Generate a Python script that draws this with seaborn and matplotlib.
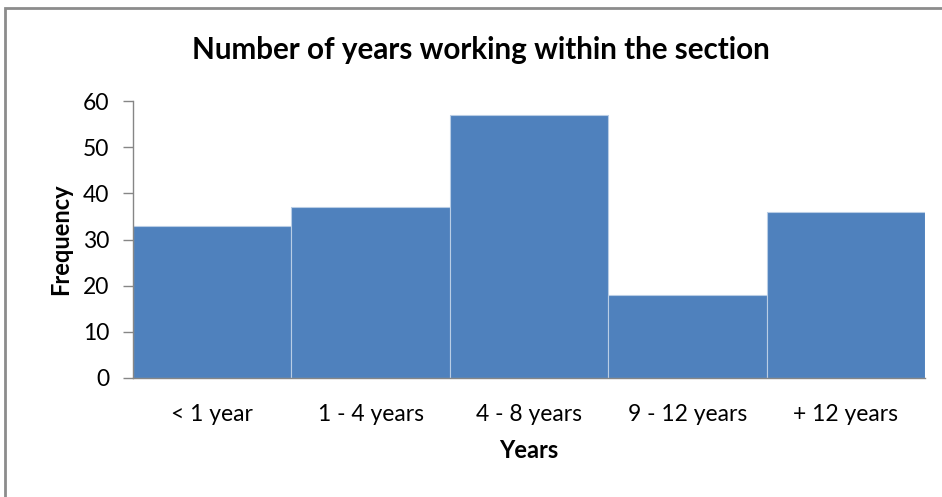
import matplotlib
matplotlib.use("Agg")
import matplotlib.pyplot as plt
import seaborn as sns
import pandas as pd
from matplotlib.patches import Rectangle

categories = ["< 1 year", "1 - 4 years", "4 - 8 years", "9 - 12 years", "+ 12 years"]
frequency = [33, 37, 57, 18, 36]
yticks = [0, 10, 20, 30, 40, 50, 60]

sns.set_theme(style="white")
plt.rcParams['font.family'] = ['Lato', 'DejaVu Sans']

df = pd.DataFrame({"Years": categories, "Frequency": frequency})

fig = plt.figure(figsize=(9.42, 4.97), dpi=100)
ax = fig.add_axes([133/942, 1-378/497, (925-133)/942, (378-101)/497])

sns.barplot(data=df, x="Years", y="Frequency", ax=ax, color="#4F81BD",
            width=1.0, edgecolor="#B9CDE5", linewidth=0.8, saturation=1)

ax.set_ylim(0, 60)
ax.set_xlim(-0.5, len(categories)-0.5)
ax.set_yticks(yticks)
ax.set_yticklabels([str(v) for v in yticks], fontsize=16.5, color="#000000")
ax.tick_params(axis='y', length=7, width=1, color="#868686", pad=10, left=True)
ax.tick_params(axis='x', length=0, pad=19, labelsize=16.5, labelcolor="#000000")
for s in ["top", "right"]:
    ax.spines[s].set_visible(False)
for s in ["left", "bottom"]:
    ax.spines[s].set_color("#868686")
    ax.spines[s].set_linewidth(1)

ax.set_xlabel("Years", fontsize=17, fontweight="bold", labelpad=10, color="#000000")
ax.set_ylabel("Frequency", fontsize=17, fontweight="bold", labelpad=8, color="#000000")

fig.text(481/942, 1-50/497, "Number of years working within the section",
         ha="center", va="center", fontsize=21.3, fontweight="bold", color="#000000")

fig.patches.append(Rectangle((5/942, -0.1), 1.2, 1-8/497+0.1, transform=fig.transFigure,
                             fill=False, edgecolor="#8C8C8C", linewidth=2, zorder=10))

fig.savefig("out.png", dpi=100)
